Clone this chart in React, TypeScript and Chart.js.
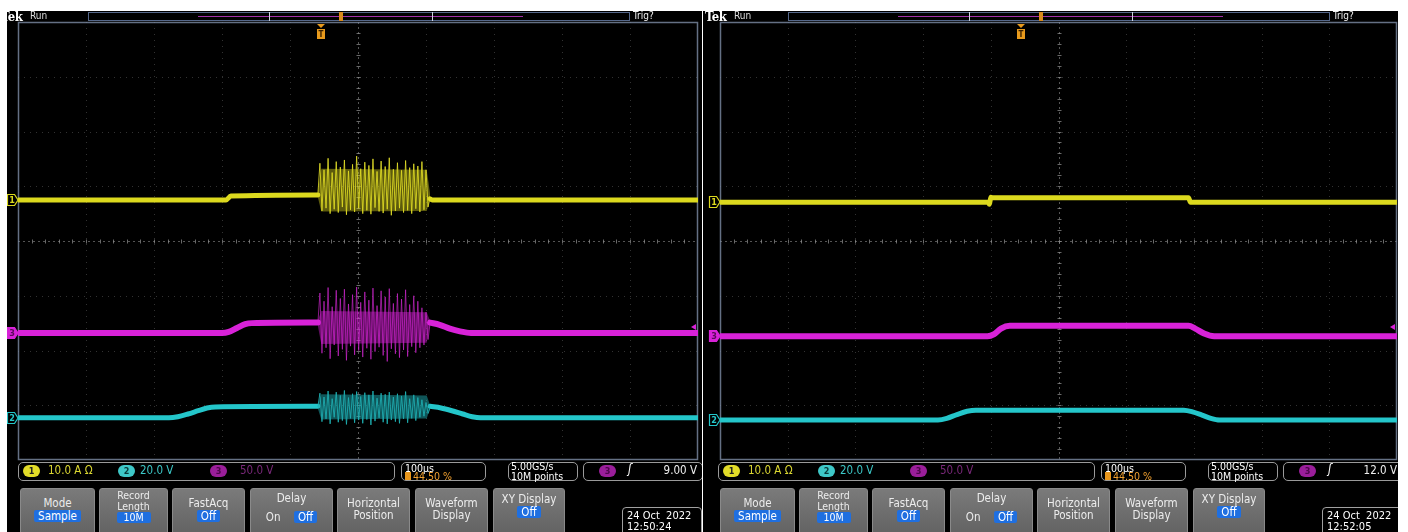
import React, { useEffect, useRef } from "react";
import { Chart, registerables } from "chart.js";
Chart.register(...registerables);

// ---------------- DATA (x: horizontal divisions 0..10, y: vertical divisions -4..+4) ----------------
const TRIG_POS = 4.45; // 44.50 %

// Left capture (12:50:24)
const L_YEL_T = [0, 3.06, 3.13, 4.41, 5.2, 6.06, 6.09, 10];
const L_YEL_V = [0.75, 0.75, 0.82, 0.84, null, 0.77, 0.75, 0.75];
const L_MAG_T = [0, 3.0, 3.1, 3.22, 3.34, 3.44, 4.41, 5.2, 6.06, 6.2, 6.35, 6.5, 6.66, 10];
const L_MAG_V = [-1.68, -1.68, -1.66, -1.59, -1.52, -1.5, -1.49, null, -1.49, -1.53, -1.6, -1.65, -1.68, -1.68];
const L_CYN_T = [0, 2.22, 2.35, 2.5, 2.65, 2.78, 2.9, 4.41, 5.2, 6.06, 6.22, 6.38, 6.54, 6.68, 6.8, 10];
const L_CYN_V = [-3.23, -3.23, -3.21, -3.16, -3.1, -3.05, -3.03, -3.02, null, -3.02, -3.05, -3.1, -3.16, -3.21, -3.23, -3.23];

const L_BURST_START = 4.41;
const L_BURST_END = 6.06;
const L_BAND_T = [4.41, 4.46, 6.01, 6.06];
const L_YEL_BAND_HI = [0.9, 1.32, 1.3, 0.86];
const L_YEL_BAND_LO = [0.8, 0.54, 0.55, 0.76];
const L_MAG_BAND_HI = [-1.45, -1.28, -1.3, -1.46];
const L_MAG_BAND_LO = [-1.55, -1.88, -1.86, -1.52];
const L_CYN_BAND_HI = [-2.98, -2.8, -2.82, -3.0];
const L_CYN_BAND_LO = [-3.06, -3.26, -3.24, -3.05];

const L_YEL_BURST = [0.85, 1.42, 0.55, 1.3, 0.6, 1.51, 0.5, 1.25, 0.58, 1.45, 0.52, 1.35, 0.62, 1.48, 0.48, 1.28, 0.57, 1.4, 0.53, 1.55, 0.6, 1.32, 0.5, 1.44, 0.56, 1.38, 0.49, 1.5, 0.61, 1.27, 0.54, 1.46, 0.51, 1.36, 0.58, 1.52, 0.47, 1.31, 0.55, 1.43, 0.6, 1.29, 0.52, 1.47, 0.56, 1.34, 0.5, 1.41, 0.59, 1.37, 0.53, 1.45, 0.57, 1.3, 0.62, 0.8];
const L_MAG_BURST = [-1.5, -0.95, -2.05, -1.1, -1.95, -0.85, -2.15, -1.2, -1.9, -0.9, -2.1, -1.05, -1.98, -0.88, -2.18, -1.15, -1.92, -0.98, -2.08, -0.84, -2.0, -1.12, -2.12, -0.93, -1.96, -1.08, -2.16, -0.86, -2.02, -1.18, -1.94, -0.91, -2.09, -1.02, -2.2, -0.87, -1.97, -1.14, -2.06, -0.96, -2.13, -1.06, -1.99, -0.89, -2.11, -1.16, -1.93, -1.0, -2.04, -1.1, -1.95, -1.22, -1.9, -1.3, -1.8, -1.5];
const L_CYN_BURST = [-3.03, -2.78, -3.3, -2.85, -3.25, -2.74, -3.34, -2.88, -3.22, -2.76, -3.31, -2.82, -3.28, -2.73, -3.35, -2.86, -3.24, -2.79, -3.32, -2.75, -3.27, -2.84, -3.33, -2.77, -3.26, -2.81, -3.36, -2.74, -3.29, -2.87, -3.23, -2.78, -3.31, -2.8, -3.34, -2.76, -3.27, -2.85, -3.3, -2.79, -3.33, -2.83, -3.25, -2.75, -3.32, -2.88, -3.24, -2.81, -3.28, -2.86, -3.22, -2.9, -3.2, -2.95, -3.15, -3.05];

// Right capture (12:52:05)
const R_YEL_T = [0, 3.96, 3.98, 4.0, 4.03, 6.92, 6.95, 10];
const R_YEL_V = [0.71, 0.71, 0.67, 0.8, 0.79, 0.79, 0.71, 0.71];
const R_MAG_T = [0, 3.95, 4.05, 4.15, 4.28, 6.92, 7.02, 7.15, 7.3, 10];
const R_MAG_V = [-1.74, -1.74, -1.7, -1.6, -1.55, -1.55, -1.6, -1.69, -1.74, -1.74];
const R_CYN_T = [0, 3.22, 3.35, 3.5, 3.65, 3.78, 6.85, 6.98, 7.12, 7.25, 7.38, 10];
const R_CYN_V = [-3.27, -3.27, -3.24, -3.17, -3.11, -3.09, -3.09, -3.12, -3.18, -3.24, -3.27, -3.27];

// channel offsets (marker positions) and trigger level
const L_OFFSETS = [0.75, -1.68, -3.23];
const R_OFFSETS = [0.71, -1.74, -3.27];
const L_TRIG_LEVEL = -1.57;
const R_TRIG_LEVEL = -1.57;

// ---------------- STYLE ----------------
const FONT = '"DejaVu Sans Condensed", "Liberation Sans Narrow", "DejaVu Sans", sans-serif';
const YEL = "#dcd91e";
const MAG = "#d822d8";
const CYN = "#24c6ca";

type P = { x: number; y: number | null };
const pts = (t: number[], v: (number | null)[]): P[] => t.map((x, i) => ({ x, y: v[i] }));
const burstPts = (s: number, e: number, v: number[]): P[] =>
  v.map((y, i) => ({ x: s + ((e - s) * i) / (v.length - 1), y }));

const trace = (data: P[], color: string, width = 5) => ({
  data,
  borderColor: color,
  borderWidth: width,
  cubicInterpolationMode: "monotone",
  fill: false,
  spanGaps: false,
  borderCapStyle: "round",
});
const burst = (data: P[], color: string) => ({
  data,
  borderColor: color,
  borderWidth: 1,
  tension: 0,
  fill: false,
});
const band = (t: number[], hi: number[], lo: number[], color: string) => [
  { data: pts(t, hi), borderWidth: 0, borderColor: "transparent", backgroundColor: color, fill: "+1", tension: 0 },
  { data: pts(t, lo), borderWidth: 0, borderColor: "transparent", fill: false, tension: 0 },
];

const LEFT_DATASETS = [
  ...band(L_BAND_T, L_YEL_BAND_HI, L_YEL_BAND_LO, "rgba(222,218,30,0.42)"),
  ...band(L_BAND_T, L_MAG_BAND_HI, L_MAG_BAND_LO, "rgba(220,34,220,0.42)"),
  ...band(L_BAND_T, L_CYN_BAND_HI, L_CYN_BAND_LO, "rgba(30,170,175,0.5)"),
  burst(burstPts(L_BURST_START, L_BURST_END, L_YEL_BURST), "rgba(226,222,40,0.85)"),
  burst(burstPts(L_BURST_START, L_BURST_END, L_MAG_BURST), "rgba(214,40,214,0.65)"),
  burst(burstPts(L_BURST_START, L_BURST_END, L_CYN_BURST), "rgba(30,180,182,0.85)"),
  trace(pts(L_YEL_T, L_YEL_V), YEL),
  trace(pts(L_MAG_T, L_MAG_V), MAG, 6),
  trace(pts(L_CYN_T, L_CYN_V), CYN),
];
const RIGHT_DATASETS = [
  trace(pts(R_YEL_T, R_YEL_V), YEL),
  trace(pts(R_MAG_T, R_MAG_V), MAG, 6),
  trace(pts(R_CYN_T, R_CYN_V), CYN),
];

// ---------------- PLUGINS ----------------
const scopeGrid = {
  id: "scopeGrid",
  beforeDatasetsDraw(chart: any) {
    const { ctx, chartArea: a, scales } = chart;
    const x = scales.x, y = scales.y;
    const line = (x1: number, y1: number, x2: number, y2: number) => {
      ctx.beginPath();
      ctx.moveTo(x1, y1);
      ctx.lineTo(x2, y2);
      ctx.stroke();
    };
    ctx.save();
    ctx.lineWidth = 1;
    ctx.strokeStyle = "rgba(110,110,110,0.45)";
    ctx.setLineDash([1, 5]);
    for (let i = 1; i < 10; i++) {
      if (i === 5) continue;
      const px = Math.round(x.getPixelForValue(i)) + 0.5;
      line(px, a.top, px, a.bottom);
    }
    for (let j = -3; j <= 3; j++) {
      if (j === 0) continue;
      const py = Math.round(y.getPixelForValue(j)) + 0.5;
      line(a.left, py, a.right, py);
    }
    const cx = Math.round(x.getPixelForValue(5)) + 0.5;
    const cy = Math.round(y.getPixelForValue(0)) + 0.5;
    ctx.strokeStyle = "rgba(140,140,140,0.6)";
    ctx.setLineDash([2, 3]);
    line(cx, a.top, cx, a.bottom);
    line(a.left, cy, a.right, cy);
    ctx.setLineDash([]);
    ctx.strokeStyle = "rgba(150,150,150,0.7)";
    for (let k = 1; k < 50; k++) {
      const px = Math.round(x.getPixelForValue(k * 0.2)) + 0.5;
      line(px, cy - 2, px, cy + 2);
    }
    for (let k = 1; k < 40; k++) {
      const py = Math.round(y.getPixelForValue(-4 + k * 0.2)) + 0.5;
      line(cx - 2, py, cx + 2, py);
    }
    ctx.strokeStyle = "rgba(125,140,165,0.8)";
    ctx.lineWidth = 1.5;
    ctx.strokeRect(a.left + 0.5, a.top + 0.5, a.right - a.left - 1, a.bottom - a.top - 1);
    ctx.restore();
  },
};

const scopeMarks = {
  id: "scopeMarks",
  afterDatasetsDraw(chart: any, _args: any, opts: any) {
    const { ctx, chartArea: a, scales } = chart;
    const x = scales.x, y = scales.y;
    ctx.save();
    ctx.font = `bold 9px ${FONT}`;
    ctx.textAlign = "center";
    ctx.textBaseline = "middle";
    (opts.channels || []).forEach((c: any) => {
      const mx = a.left - 11;
      const my = Math.round(y.getPixelForValue(c.value));
      ctx.beginPath();
      ctx.moveTo(mx + 0.5, my - 5.5);
      ctx.lineTo(mx + 7.5, my - 5.5);
      ctx.lineTo(mx + 11, my);
      ctx.lineTo(mx + 7.5, my + 5.5);
      ctx.lineTo(mx + 0.5, my + 5.5);
      ctx.closePath();
      ctx.fillStyle = c.filled ? c.color : "#000";
      ctx.fill();
      ctx.lineWidth = 1.2;
      ctx.strokeStyle = c.color;
      ctx.stroke();
      ctx.fillStyle = c.filled ? "#5a0a5a" : c.color;
      ctx.fillText(c.label, mx + 5, my + 0.5);
    });
    // trigger level arrow (right edge)
    const ty = y.getPixelForValue(opts.trigLevel);
    ctx.fillStyle = MAG;
    ctx.beginPath();
    ctx.moveTo(a.right - 2, ty - 3);
    ctx.lineTo(a.right - 2, ty + 3);
    ctx.lineTo(a.right - 7, ty);
    ctx.closePath();
    ctx.fill();
    // trigger position marker
    const tx = Math.round(x.getPixelForValue(opts.trigPos));
    const top = a.top + 2;
    ctx.fillStyle = "#e89a1c";
    ctx.beginPath();
    ctx.moveTo(tx - 4, top);
    ctx.lineTo(tx + 4, top);
    ctx.lineTo(tx, top + 4);
    ctx.closePath();
    ctx.fill();
    ctx.fillRect(tx - 4, top + 5, 8, 10);
    ctx.fillStyle = "#3a2000";
    ctx.font = `bold 8px ${FONT}`;
    ctx.fillText("T", tx, top + 10.5);
    ctx.restore();
  },
};

// ---------------- UI pieces ----------------
const Abs = (props: any) => <div style={{ position: "absolute", ...props.style }}>{props.children}</div>;
const Blue = ({ children, w }: any) => (
  <span style={{ background: "#1f6fe0", color: "#fff", padding: "0 4px", borderRadius: 2, display: "inline-block", minWidth: w }}>{children}</span>
);
const Badge = ({ bg, fg, text, left, top }: any) => (
  <Abs style={{ left, top, width: 17, height: 12, borderRadius: 6, background: bg, color: fg, fontSize: 9, fontWeight: "bold", lineHeight: "12px", textAlign: "center" }}>{text}</Abs>
);

type PanelProps = {
  left: number;
  width: number;
  gridLeft: number;
  gridWidth: number;
  tekX: number;
  hx: number;
  bx: number;
  datasets: any[];
  offsets: number[];
  trigLevel: number;
  trigText: string;
  date: string;
  time: string;
};

function Panel(p: PanelProps) {
  const ref = useRef<HTMLCanvasElement>(null);
  useEffect(() => {
    const chart = new Chart(ref.current as HTMLCanvasElement, {
      type: "line",
      data: { datasets: p.datasets as any },
      options: {
        animation: false,
        responsive: false,
        maintainAspectRatio: false,
        layout: { padding: { left: p.gridLeft, right: p.width - p.gridLeft - p.gridWidth, top: 11, bottom: 1 } },
        elements: { point: { radius: 0 } },
        scales: {
          x: { type: "linear", min: 0, max: 10, display: false },
          y: { type: "linear", min: -4, max: 4, display: false },
        },
        plugins: {
          legend: { display: false },
          tooltip: { enabled: false },
          scopeMarks: {
            channels: [
              { label: "1", color: YEL, value: p.offsets[0], filled: false },
              { label: "3", color: MAG, value: p.offsets[1], filled: true },
              { label: "2", color: CYN, value: p.offsets[2], filled: false },
            ],
            trigLevel: p.trigLevel,
            trigPos: TRIG_POS,
          },
        } as any,
      },
      plugins: [scopeGrid, scopeMarks],
    });
    return () => chart.destroy();
  }, []);

  const hx = p.hx, bx = p.bx;
  const btn = (left: number, width: number, content: any) => (
    <Abs style={{ left: left + bx, top: 477, width, height: 60, borderRadius: 3, background: "linear-gradient(#7a7a7a, #5c5c5c)", border: "1px solid #8a8a8a", boxSizing: "border-box", color: "#ececec", fontSize: 11.5, lineHeight: "12px", textAlign: "center" }}>{content}</Abs>
  );
  const box = (left: number, width: number) => (
    <Abs style={{ left: left + bx, top: 451, width, height: 19, border: "1px solid #9a9a9a", borderRadius: 5, boxSizing: "border-box" }} />
  );

  return (
    <div style={{ position: "absolute", left: p.left, top: 11, width: p.width, height: 521, background: "#000", overflow: "hidden", fontFamily: FONT }}>
      <canvas ref={ref} width={p.width} height={450} style={{ position: "absolute", left: 0, top: 0, width: p.width, height: 450 }} />
      {/* header */}
      <Abs style={{ left: p.tekX, top: -2, color: "#fff", fontSize: 13, fontWeight: "bold", fontFamily: '"DejaVu Serif Condensed", "DejaVu Serif", serif', letterSpacing: -0.5 }}>Tek</Abs>
      <Abs style={{ left: p.tekX + 29, top: -1, color: "#ddd", fontSize: 10 }}>Run</Abs>
      <Abs style={{ left: 81 + hx, top: 1, width: 542, height: 9, border: "1px solid #56688a", boxSizing: "border-box" }} />
      <Abs style={{ left: 191 + hx, top: 5, width: 325, height: 1, background: "#a030a8" }} />
      <Abs style={{ left: 262 + hx, top: 1, width: 164, height: 9, borderLeft: "1px solid #cfd4e0", borderRight: "1px solid #cfd4e0", boxSizing: "border-box" }} />
      <Abs style={{ left: 332 + hx, top: 1, width: 4, height: 9, background: "#d98a1a" }} />
      <Abs style={{ left: 626 + hx, top: -1, color: "#eee", fontSize: 10 }}>Trig?</Abs>

      {/* status row */}
      {box(11, 377)}
      <Badge bg="#e2dc28" fg="#222" text="1" left={16 + bx} top={454} />
      <Abs style={{ left: 41 + bx, top: 452, color: "#dcd832", fontSize: 11.5 }}>10.0 A Ω</Abs>
      <Badge bg="#3ec8c8" fg="#0b3a3a" text="2" left={111 + bx} top={454} />
      <Abs style={{ left: 133 + bx, top: 452, color: "#3cc8c8", fontSize: 11.5 }}>20.0 V</Abs>
      <Badge bg="#9a1e9a" fg="#4a064a" text="3" left={203 + bx} top={454} />
      <Abs style={{ left: 233 + bx, top: 452, color: "#7a287a", fontSize: 11.5 }}>50.0 V</Abs>

      {box(394, 85)}
      <Abs style={{ left: 398 + bx, top: 451, color: "#fff", fontSize: 10.5 }}>100µs</Abs>
      <Abs style={{ left: 398 + bx, top: 461, width: 6, height: 8, background: "#e8961c" }} />
      <Abs style={{ left: 406 + bx, top: 459, color: "#f0a030", fontSize: 10.5 }}>44.50 %</Abs>

      {box(501, 70)}
      <Abs style={{ left: 504 + bx, top: 450, color: "#fff", fontSize: 10.5, lineHeight: "10px" }}>5.00GS/s<br />10M points</Abs>

      {box(576, 120)}
      <Badge bg="#9a1e9a" fg="#4a064a" text="3" left={592 + bx} top={454} />
      <Abs style={{ left: 621 + bx, top: 451, color: "#fff", fontSize: 12, fontStyle: "italic" }}>ʃ</Abs>
      <Abs style={{ left: 636 + bx, width: 54, top: 452, color: "#eee", fontSize: 11.5, textAlign: "right" }}>{p.trigText}</Abs>

      {/* buttons */}
      {btn(13, 75, <div style={{ paddingTop: 8 }}>Mode<br /><span style={{ display: "inline-block", marginTop: 1 }}><Blue>Sample</Blue></span></div>)}
      {btn(92, 69, <div style={{ paddingTop: 1, fontSize: 10.5, lineHeight: "11px" }}>Record<br />Length<br /><Blue w={26}>10M</Blue></div>)}
      {btn(165, 73, <div style={{ paddingTop: 8 }}>FastAcq<br /><span style={{ display: "inline-block", marginTop: 1 }}><Blue>Off</Blue></span></div>)}
      {btn(243, 83, <div style={{ paddingTop: 3 }}>Delay<div style={{ marginTop: 7, display: "flex", justifyContent: "space-around", padding: "0 8px" }}><span>On</span><Blue>Off</Blue></div></div>)}
      {btn(330, 73, <div style={{ paddingTop: 8 }}>Horizontal<br />Position</div>)}
      {btn(408, 73, <div style={{ paddingTop: 8 }}>Waveform<br />Display</div>)}
      {btn(486, 72, <div style={{ paddingTop: 4 }}>XY Display<br /><span style={{ display: "inline-block", marginTop: 1 }}><Blue>Off</Blue></span></div>)}

      <Abs style={{ left: 615 + bx, top: 496, width: 80, height: 40, border: "1px solid #a0a0a0", borderRadius: 4, boxSizing: "border-box", color: "#fff", fontSize: 11, lineHeight: "11px", padding: "2px 0 0 4px" }}>
        {p.date}<br />{p.time}
      </Abs>
    </div>
  );
}

export default function App() {
  return (
    <div style={{ position: "fixed", left: 0, top: 0, width: 1408, height: 532, background: "#fff", overflow: "hidden" }}>
      <Panel left={7} width={695} gridLeft={11} gridWidth={680} tekX={-6} hx={0} bx={0}
        datasets={LEFT_DATASETS} offsets={L_OFFSETS} trigLevel={L_TRIG_LEVEL} trigText="9.00 V"
        date={"24 Oct\u00a0 2022"} time="12:50:24" />
      <Panel left={703} width={695} gridLeft={17} gridWidth={677} tekX={2} hx={4} bx={4}
        datasets={RIGHT_DATASETS} offsets={R_OFFSETS} trigLevel={R_TRIG_LEVEL} trigText="12.0 V"
        date={"24 Oct\u00a0 2022"} time="12:52:05" />
    </div>
  );
}
